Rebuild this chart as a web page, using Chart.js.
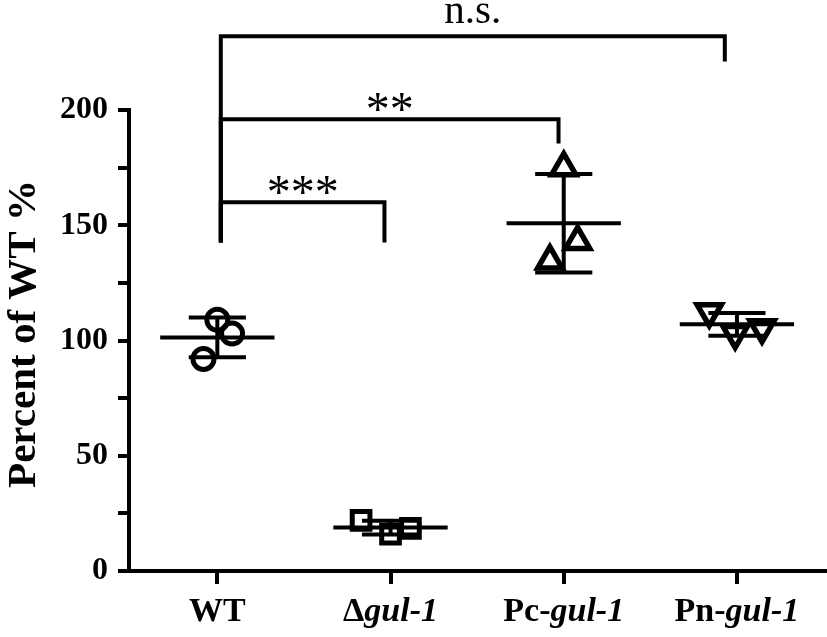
<!DOCTYPE html>
<html>
<head>
<meta charset="utf-8">
<script src="https://cdn.jsdelivr.net/npm/chart.js@4.4.1/dist/chart.umd.min.js"></script>
<style>
  html, body { margin: 0; padding: 0; background: #fff; overflow: hidden; }
  #wrap { width: 827px; height: 637px; }
  canvas { display: block; }
</style>
</head>
<body>
<div id="wrap"><canvas id="dot-chart"></canvas></div>
<script>
// group names: upright part + italic gene part
const GROUP_PREFIX = ["WT", "Δ", "Pc-", "Pn-"];
const GROUP_ITALIC = ["", "gul-1", "gul-1", "gul-1"];

// replicate values (percent of WT)
const WT_VALUES = [109, 103, 92];
const DELTA_VALUES = [22, 16, 18.5];
const PC_VALUES = [175, 143, 134.5];
const PN_VALUES = [112.5, 103, 105.5];
const JITTER = [
  [0, 0.085, -0.08],
  [-0.17, 0, 0.115],
  [0, 0.08, -0.08],
  [-0.16, -0.01, 0.145],
];

const Y_TICKS = [0, 25, 50, 75, 100, 125, 150, 175, 200];

// significance brackets (x in group units, y in data units)
const BRACKET_FROM = [0.02, 0.02, 0.02];
const BRACKET_TO = [0.965, 1.97, 2.93];
const BRACKET_TOP = [160, 196, 232];
const BRACKET_DROP = [142.5, 185.5, 221];
const BRACKET_LABELS = ["***", "**", "n.s."];

const SERIES = [WT_VALUES, DELTA_VALUES, PC_VALUES, PN_VALUES];
const SYMBOLS = ["circle", "rect", "triangle", "triangle"];
const ROTATION = [0, 0, 0, 180];
const RADIUS = [10.5, 12.5, 14, 14];
const STROKE = [5, 5, 5.5, 5.5];

const FONT = "'Liberation Serif', 'Times New Roman', serif";

const mean = (a) => a.reduce((s, v) => s + v, 0) / a.length;
const sd = (a) => {
  const m = mean(a);
  return Math.sqrt(a.reduce((s, v) => s + (v - m) * (v - m), 0) / (a.length - 1));
};

const errorBars = {
  id: "errorBars",
  beforeDatasetsDraw(chart) {
    const { ctx, scales: { x, y } } = chart;
    const seg = (x1, y1, x2, y2) => {
      ctx.beginPath();
      ctx.moveTo(x.getPixelForValue(x1), y.getPixelForValue(y1));
      ctx.lineTo(x.getPixelForValue(x2), y.getPixelForValue(y2));
      ctx.stroke();
    };
    ctx.save();
    ctx.strokeStyle = "#000";
    ctx.lineWidth = 4;
    SERIES.forEach((vals, i) => {
      const m = mean(vals);
      const s = sd(vals);
      seg(i - 0.33, m, i + 0.33, m);
      seg(i - 0.165, m + s, i + 0.165, m + s);
      seg(i - 0.165, m - s, i + 0.165, m - s);
      seg(i, m - s, i, m + s);
    });
    ctx.restore();
  },
};

const annotations = {
  id: "annotations",
  afterDraw(chart) {
    const { ctx, scales: { x, y } } = chart;
    ctx.save();
    ctx.strokeStyle = "#000";
    ctx.fillStyle = "#000";
    ctx.lineWidth = 4;
    ctx.lineJoin = "miter";
    BRACKET_LABELS.forEach((label, i) => {
      const x1 = x.getPixelForValue(BRACKET_FROM[i]);
      const x2 = x.getPixelForValue(BRACKET_TO[i]);
      const top = y.getPixelForValue(BRACKET_TOP[i]);
      ctx.beginPath();
      ctx.moveTo(x1, y.getPixelForValue(BRACKET_DROP[0]));
      ctx.lineTo(x1, top);
      ctx.lineTo(x2, top);
      ctx.lineTo(x2, y.getPixelForValue(BRACKET_DROP[i]));
      ctx.stroke();
      ctx.textAlign = "center";
      ctx.textBaseline = "alphabetic";
      if (label === "n.s.") {
        ctx.font = "41px " + FONT;
        ctx.fillText(label, (x1 + x2) / 2, top - 13);
      } else {
        ctx.font = "48px " + FONT;
        ctx.fillText(label, (x1 + x2) / 2, top + 6);
      }
    });

    // category labels with italic gene names
    const bold = "bold 34px " + FONT;
    const boldIt = "italic bold 34px " + FONT;
    ctx.textAlign = "left";
    GROUP_PREFIX.forEach((pre, i) => {
      ctx.font = bold;
      const w1 = ctx.measureText(pre).width;
      ctx.font = boldIt;
      const w2 = ctx.measureText(GROUP_ITALIC[i]).width;
      const start = x.getPixelForValue(i) - (w1 + w2) / 2;
      ctx.font = bold;
      ctx.fillText(pre, start, 621);
      ctx.font = boldIt;
      ctx.fillText(GROUP_ITALIC[i], start + w1, 621);
    });

    // y axis title
    ctx.translate(35, 334);
    ctx.rotate(-Math.PI / 2);
    ctx.textAlign = "center";
    ctx.font = "bold 41px " + FONT;
    ctx.fillText("Percent of WT %", 0, 0);
    ctx.restore();
  },
};

new Chart(document.getElementById("dot-chart"), {
  type: "scatter",
  data: {
    datasets: SERIES.map((vals, i) => ({
      label: GROUP_PREFIX[i] + GROUP_ITALIC[i],
      data: vals.map((v, j) => ({ x: i + JITTER[i][j], y: v })),
      pointStyle: SYMBOLS[i],
      rotation: ROTATION[i],
      pointRadius: RADIUS[i],
      pointHoverRadius: RADIUS[i],
      borderColor: "#000",
      backgroundColor: "rgba(0,0,0,0)",
      borderWidth: STROKE[i],
    })),
  },
  options: {
    responsive: true,
    maintainAspectRatio: false,
    animation: false,
    layout: { autoPadding: false, padding: { top: 110, left: 0, right: 0, bottom: 0 } },
    plugins: {
      legend: { display: false },
      tooltip: { enabled: false },
    },
    scales: {
      x: {
        type: "linear",
        min: -0.51,
        max: 3.52,
        afterBuildTicks: (axis) => {
          axis.ticks = GROUP_PREFIX.map((g, i) => ({ value: i }));
        },
        afterFit: (axis) => {
          axis.height = 66;
        },
        ticks: { callback: () => "" },
        grid: {
          drawOnChartArea: false,
          drawTicks: true,
          tickLength: 13,
          lineWidth: 4,
          color: "#000",
        },
        border: { color: "#000", width: 4 },
      },
      y: {
        min: 0,
        max: 200,
        afterBuildTicks: (axis) => {
          axis.ticks = Y_TICKS.map((v) => ({ value: v }));
        },
        afterFit: (axis) => {
          axis.width = 129;
        },
        ticks: {
          color: "#000",
          padding: 10,
          font: { family: FONT, size: 32, weight: "bold" },
          callback: (v) => (v % 50 === 0 ? v : ""),
        },
        grid: {
          drawOnChartArea: false,
          drawTicks: true,
          tickLength: 11,
          lineWidth: 4,
          color: "#000",
        },
        border: { color: "#000", width: 4 },
      },
    },
  },
  plugins: [errorBars, annotations],
});
</script>
</body>
</html>
